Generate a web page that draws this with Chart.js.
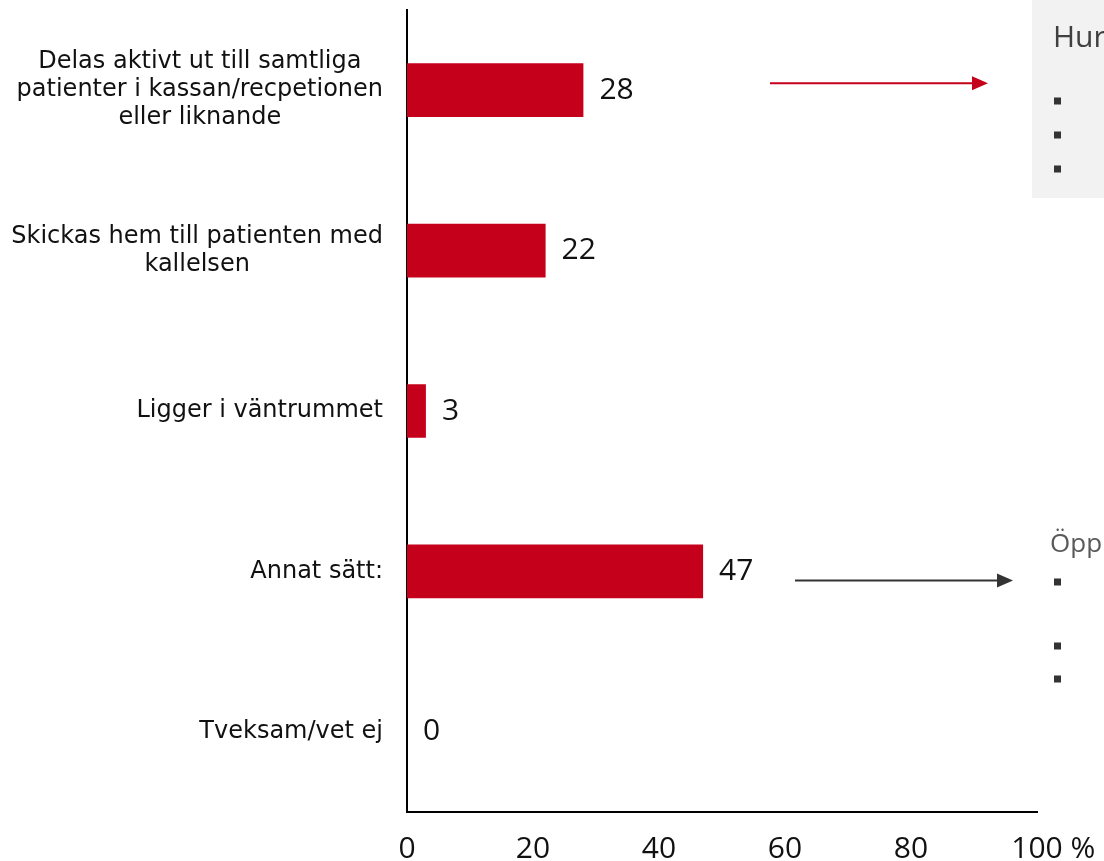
<!DOCTYPE html>
<html lang="sv">
  <head>
    <meta charset="UTF-8">
    <script src="https://cdn.jsdelivr.net/npm/chart.js"></script>
    <style>
      body { margin: 0; background: #fff; }
      #wrap { position: relative; width: 1104px; height: 861px; }
    </style>
  </head>
  <body>
    <div id="wrap">
      <canvas id="chart" width="1104" height="861"></canvas>
    </div>
    <script>
      // data
      const categories = [
        ['Delas aktivt ut till samtliga', 'patienter i kassan/recpetionen', 'eller liknande'],
        ['Skickas hem till patienten med', 'kallelsen'],
        ['Ligger i väntrummet'],
        ['Annat sätt:'],
        ['Tveksam/vet ej']
      ];
      const values = [28, 22, 3, 47, 0];
      const xTicks = [0, 20, 40, 60, 80, 100];
      const unit = '%';

      const red = '#c5001a';
      const catFont = '24px "DejaVu Sans"';
      const numSize = 30;
      const numFont = numSize + 'px "Open Sans"';
      const tickPad = 19;

      // y-axis labels: block right aligned, lines centred inside the block
      const catLabels = {
        id: 'catLabels',
        afterDraw(chart) {
          const ctx = chart.ctx;
          const y = chart.scales.y;
          const lineH = 28;
          ctx.save();
          ctx.font = catFont;
          ctx.fillStyle = '#111';
          ctx.textAlign = 'center';
          ctx.textBaseline = 'middle';
          categories.forEach((lines, i) => {
            const w = Math.max(...lines.map(l => ctx.measureText(l).width));
            const cx = y.right - 24 - w / 2;
            const cy = y.getPixelForTick(i);
            lines.forEach((l, k) => {
              ctx.fillText(l, cx, cy + (k - (lines.length - 1) / 2) * lineH);
            });
          });
          ctx.restore();
        }
      };

      // value labels at the bar ends, and the unit after the last x tick
      const valueLabels = {
        id: 'valueLabels',
        afterDatasetsDraw(chart) {
          const ctx = chart.ctx;
          const meta = chart.getDatasetMeta(0);
          ctx.save();
          ctx.font = numFont;
          ctx.fillStyle = '#111';
          ctx.textAlign = 'left';
          ctx.textBaseline = 'middle';
          meta.data.forEach((bar, i) => {
            ctx.fillText(String(values[i]), bar.x + 16, bar.y);
          });

          const x = chart.scales.x;
          const last = xTicks[xTicks.length - 1];
          const px = x.getPixelForValue(last);
          const w = ctx.measureText(String(last)).width;
          ctx.fillText(' ' + unit, px + w / 2, x.top + tickPad + numSize * 0.6);
          ctx.restore();
        }
      };

      function arrow(ctx, x1, x2, y, color) {
        ctx.strokeStyle = color;
        ctx.fillStyle = color;
        ctx.lineWidth = 2;
        ctx.beginPath();
        ctx.moveTo(x1, y);
        ctx.lineTo(x2 - 14, y);
        ctx.stroke();
        ctx.beginPath();
        ctx.moveTo(x2, y);
        ctx.lineTo(x2 - 16, y - 7);
        ctx.lineTo(x2 - 16, y + 7);
        ctx.closePath();
        ctx.fill();
      }

      function bullet(ctx, x, y) {
        ctx.fillStyle = '#333';
        ctx.fillRect(x, y - 3.5, 7, 7);
      }

      // side notes (cut off at the right edge, as in the original slide)
      const sideNotes = {
        id: 'sideNotes',
        beforeDraw(chart) {
          const ctx = chart.ctx;
          ctx.save();
          ctx.fillStyle = '#f2f2f2';
          ctx.fillRect(1032, 0, 72, 198);
          ctx.restore();
        },
        afterDraw(chart) {
          const ctx = chart.ctx;
          const y = chart.scales.y;
          ctx.save();
          arrow(ctx, 770, 988, y.getPixelForTick(0) - 7, red);
          arrow(ctx, 795, 1013, y.getPixelForTick(3) + 9, '#333');

          ctx.textAlign = 'left';
          ctx.textBaseline = 'middle';
          ctx.fillStyle = '#404040';
          ctx.font = '30px "Open Sans"';
          ctx.fillText('Hur', 1053, 38);
          [101, 135, 169].forEach(by => bullet(ctx, 1054, by));

          ctx.fillStyle = '#595959';
          ctx.font = '26px "Open Sans"';
          ctx.fillText('Öpp', 1050, 545);
          [582, 646, 679].forEach(by => bullet(ctx, 1054, by));
          ctx.restore();
        }
      };

      new Chart(document.getElementById('chart'), {
        type: 'bar',
        data: {
          labels: categories,
          datasets: [{
            data: values,
            backgroundColor: red,
            borderWidth: 0,
            categoryPercentage: 0.67,
            barPercentage: 0.5
          }]
        },
        options: {
          indexAxis: 'y',
          responsive: false,
          animation: false,
          devicePixelRatio: 1,
          layout: { padding: { top: 10, right: 67, left: 0, bottom: 0 } },
          plugins: {
            legend: { display: false },
            tooltip: { enabled: false }
          },
          scales: {
            x: {
              min: 0,
              max: 100,
              afterBuildTicks(scale) {
                scale.ticks = xTicks.map(v => ({ value: v }));
              },
              afterFit(scale) { scale.height = 49; },
              grid: { display: false, drawTicks: false },
              border: { display: true, color: '#000', width: 2 },
              ticks: {
                padding: tickPad,
                color: '#111',
                font: { family: 'Open Sans', size: numSize },
                maxRotation: 0,
                callback: v => String(v)
              }
            },
            y: {
              afterFit(scale) { scale.width = 407; },
              grid: { display: false, drawTicks: false },
              border: { display: true, color: '#000', width: 2 },
              ticks: { display: false }
            }
          }
        },
        plugins: [catLabels, valueLabels, sideNotes]
      });
    </script>
  </body>
</html>
